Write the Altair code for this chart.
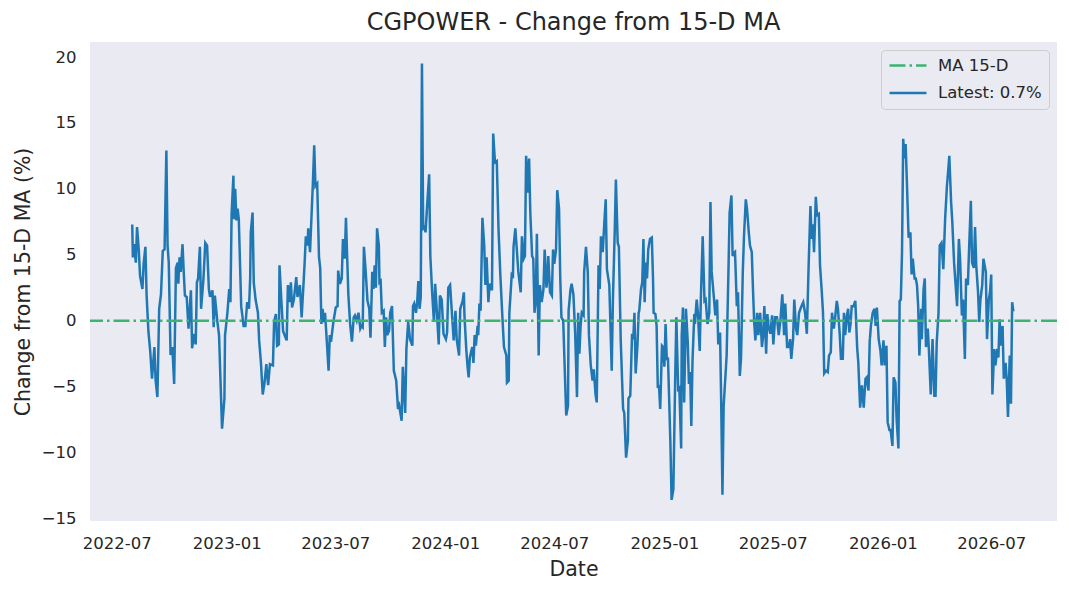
import altair as alt
import pandas as pd

# ---------------- data ----------------
BASE_DATE = "2022-07-01"  # day offsets below are counted from this date

DAYS_A = [26,27,29,32,34,37,39,43,45,48,50,53,56,59,63,65,68,71,74,77,
          80,83,85,87,90,93,96,99,102,103,105,107,110,112,114,117,120,124,126,129,
          132,134,136,139,141,145,148,151,154,156,160,162,164,168,171,176,180,181,185,188,
          190,192,195,196,198,200,202,204,208,212,215,218,221,223,224,227,229,232,236,238,
          241,244,247,250,253,256,261,263,266,268,271,272,275,278,284,286,289,291,293,296,
          300,302,306,309,312,314,316,319,320,323,326,328,330,332,335,338,340,342,344,346,
          348,350,354,356,358,362,366,369,370,373,376,378,380,381,383,387,390,393,396]
PCT_A = [7.3,4.8,5.8,4.4,7.1,5.3,3.4,2.4,4.3,5.6,
         1.9,-0.8,-2.3,-4.4,-2.0,-4.5,-5.8,0.9,2.0,5.3,
         5.4,12.9,5.7,4.4,-2.6,-2.0,-4.8,4.0,4.4,2.8,
         4.8,3.7,5.8,3.7,1.9,1.8,-0.6,2.3,-2.1,-1.0,
         -1.8,2.9,3.2,5.6,0.9,3.2,5.9,5.7,2.4,1.8,
         2.3,-0.5,1.9,0.0,-1.1,-8.2,-5.9,-1.1,0.6,2.4,
         1.4,8.1,11.0,7.7,10.0,7.6,8.5,7.7,1.1,-0.4,
         -0.4,1.4,0.9,3.2,6.7,8.2,2.9,1.6,0.6,-1.5,
         -3.2,-5.6,-4.7,-3.3,-4.9,-3.3,-3.4,-0.1,0.5,-1.9,
         -1.8,4.2,1.6,-0.8,-1.5,2.7,1.4,2.9,1.0,1.6,
         3.3,1.8,2.7,0.25,2.7,4.4,6.4,5.7,7.0,5.2,
         8.5,10.7,13.3,10.2,10.4,4.8,4.0,-0.25,0.9,-0.1,
         0.6,-0.8,-3.8,-1.1,-1.6,-0.1,1.0,1.1,3.8,2.8,
         3.2,6.2,5.2,4.7,7.8,2.0,-0.25,-1.6,0.25]

DAYS_B = [398,401,404,407,409,411,413,416,419,422,424,427,429,431,433,435,438,439,441,443,
          446,448,450,452,455,457,460,463,467,470,472,476,478,482,484,487,490,494,495,497,
          500,502,504,506,508,510,512,514,516,519,522,524,527,530,532,535,538,540,543,546,
          550,552,554,557,560,563,566,568,572,574,578,580,581,584,586,588,590,594,596,598,
          600,603,604,606,608,611,614,616,618,621,623,627,629,632,635,638,641,644,647,651,
          652,655,656,660,662,663,666,668,671,675,677,680,682,684,687,689,691,694,696,698,
          700,702,705,707,710,713,715,718,720,721,724,727,729,731,734,736,739,741,743,746,
          749,751,754,755,758,760,763,766,769,771,773]
PCT_B = [0.4,0.0,0.6,-0.6,-0.4,-0.5,5.6,3.7,1.5,0.9,
         -1.3,3.7,2.4,4.2,2.5,7.0,5.7,2.9,3.0,0.6,
         0.75,-2.0,0.25,-1.1,-0.76,0.6,1.1,-3.8,-4.55,-6.7,
         -6.45,-7.6,-3.5,-7.0,-2.15,-0.1,-1.4,-1.9,1.1,1.3,
         0.6,1.4,3.0,0.9,1.8,19.5,7.0,7.1,6.7,9.0,
         11.1,4.9,2.15,-0.1,2.8,0.6,-1.8,1.9,1.6,-1.0,
         -1.4,-0.9,2.5,2.7,0.6,-1.5,0.75,-1.4,-2.65,0.9,
         1.5,2.15,0.4,-2.15,-3.4,-4.3,-2.8,-2.0,-3.2,-1.1,
         -1.9,-0.4,-1.1,1.3,0.75,7.8,5.7,2.7,4.8,1.4,
         2.8,2.3,14.2,12.0,12.1,6.8,3.4,0.6,-2.0,-2.65,
         -4.7,-4.55,0.6,3.5,3.4,5.6,7.0,5.7,3.7,2.15,
         6.4,4.7,4.9,12.5,9.7,12.3,8.2,4.9,4.7,0.6,
         1.4,6.6,-2.65,2.7,1.4,2.4,5.4,2.5,3.4,4.9,
         2.15,1.9,5.4,4.3,5.4,9.9,8.5,3.3,0.25,0.0,
         -4.4,-7.2,-6.45,0.75,2.3,2.8,2.0,-1.0,-5.8,0.6,
         -2.5]

DAYS_C = [775,777,780,781,784,787,789,792,795,797,800,802,805,807,809,812,815,817,819,823,
          827,829,832,834,837,839,842,846,848,851,854,855,858,861,863,865,867,870,872,873,
          876,878,880,882,884,886,888,891,894,896,897,900,902,904,906,908,911,913,915,917,
          919,921,925,927,930,933,935,938,940,943,944,946,948,951,954,956,958,960,962,965,
          966,969,971,974,976,979,982,984,987,990,992,994,998,1000,1003,1005,1008,1010,1012,1014,
          1017,1019,1022,1024,1027,1029,1031,1033,1036,1038,1041,1043,1046,1048,1051,1053,1056,1058,1061,1063,
          1065,1067,1070,1072,1075,1078,1080,1082,1085,1087,1089,1092,1095,1097,1100,1103,1106,1109,1112,1115,
          1117,1120,1123,1125,1127,1130,1132,1135,1137,1140,1144,1147]
PCT_C = [-0.4,0.6,0.4,3.7,5.6,3.7,-1.1,-3.4,-4.55,-3.7,
         -5.6,-6.2,4.2,2.4,6.4,5.2,7.7,9.2,3.9,2.7,
         -3.8,1.6,6.7,10.7,5.9,5.6,-1.4,-6.7,-7.0,-10.4,
         -9.1,-5.9,-5.7,-1.0,-1.4,0.6,-4.0,-1.9,0.6,0.75,
         2.4,2.9,6.2,1.4,4.4,3.2,5.4,6.2,6.3,3.2,
         0.6,0.5,-0.4,-5.1,-4.9,-6.7,-1.9,-2.0,-3.5,-0.25,
         -3.0,-2.8,-9.2,-13.6,-12.8,-4.55,0.25,-5.2,-5.1,-9.7,
         -1.1,1.0,-6.2,0.9,-1.6,-4.8,-3.9,-8.0,-3.0,0.5,
         -0.25,1.6,0.6,-2.3,1.8,6.4,1.5,1.6,-0.25,0.6,
         9.0,3.7,1.6,0.4,1.6,-1.8,-0.9,-6.45,-13.2,-6.45,
         -4.2,-2.65,3.7,8.2,9.5,4.9,5.1,5.2,1.1,2.15,
         -4.2,-2.9,3.7,6.4,9.2,8.5,6.7,5.7,5.2,2.4,
         -0.1,-1.5,0.6,-1.1,0.6,-2.0,-1.1,1.1,-2.5,0.5,
         -0.4,-1.0,0.4,-1.8,0.25,0.25,-1.1,0.1,2.0,-1.1,
         1.3,-2.0,-2.0,-1.4,-2.9,-1.4,1.6,-0.6,-1.1,0.6,
         1.1,1.4]

DAYS_D = [1150,1153,1156,1159,1161,1163,1165,1168,1170,1173,1175,1178,1180,1182,1185,1188,1190,1193,1195,1198,
          1200,1203,1205,1208,1210,1213,1215,1217,1220,1222,1224,1226,1228,1231,1234,1237,1239,1242,1245,1248,
          1251,1253,1256,1258,1260,1263,1266,1268,1270,1273,1276,1278,1281,1283,1286,1288,1291,1293,1296,1298,
          1301,1303,1306,1308,1310,1312,1314,1316,1318,1320,1323,1326,1328,1330,1333,1335,1337,1339,1341,1344,
          1345,1348,1350,1352,1355,1357,1360,1363,1366,1368,1370,1373,1375,1378,1381,1384,1387,1389,1391,1394,
          1396,1399,1402,1404,1407,1409,1412,1414,1417,1419,1422,1424,1427,1429,1432,1434,1436,1439,1441,1443,
          1446,1448,1450,1452,1454,1457,1459,1461,1463,1466,1468,1471,1473,1475,1477,1480,1482,1485,1487,1489,
          1492,1494,1496,1498]
PCT_D = [0.6,-1.0,4.2,8.7,6.2,7.3,5.2,9.4,8.0,8.1,
         4.2,2.15,0.6,-4.0,-3.8,-3.9,-2.65,-2.4,0.6,-0.6,
         0.1,1.5,0.9,-1.1,-2.9,-2.9,0.6,-1.1,0.4,0.9,
         -0.9,-0.25,1.1,1.1,1.5,-2.0,-3.2,-6.6,-4.9,-6.6,
         -4.4,-4.3,-5.3,-1.6,-0.4,0.6,0.9,-0.4,1.0,-1.4,
         -2.3,-3.4,-1.5,-3.4,-1.9,-7.7,-8.3,-8.3,-9.5,-4.3,
         -4.7,-7.5,-9.7,1.5,1.6,5.2,13.8,12.3,13.4,10.7,
         6.3,6.7,3.5,4.7,3.2,3.2,2.7,1.1,-2.65,0.9,
         -1.4,2.4,3.2,-2.0,-0.6,-2.3,-5.6,-1.4,-5.7,-5.7,
         -1.6,0.6,5.7,5.9,3.9,7.7,10.2,11.3,12.5,9.0,
         7.5,4.4,2.4,1.1,6.2,4.7,0.4,1.6,-2.9,3.2,
         2.7,5.4,9.1,4.4,4.0,7.1,4.2,2.15,-0.1,1.6,
         2.7,4.7,4.2,3.7,-1.4,1.6,2.15,3.5,-5.6,-2.15,
         -3.4,-2.15,-2.8,0.1,-1.9,-0.4,-4.4,-3.2,-4.55,-7.3,
         -2.65,-6.3,1.4,0.7]

MA_LABEL = "MA 15-D"
LATEST_LABEL = "Latest: 0.7%"
MA_LEVEL = [0.0]
X_TICK_DATES = ["2022-07-01", "2023-01-01", "2023-07-01", "2024-01-01", "2024-07-01",
                "2025-01-01", "2025-07-01", "2026-01-01", "2026-07-01"]
Y_TICKS = [-15, -10, -5, 0, 5, 10, 15, 20]
X_DOMAIN = ["2022-05-17T10:00:00", "2026-10-18T22:00:00"]
Y_DOMAIN = [-15.2, 21.14]

# ---------------- build tables ----------------
days = DAYS_A + DAYS_B + DAYS_C + DAYS_D
pct = PCT_A + PCT_B + PCT_C + PCT_D
dates = (pd.Timestamp(BASE_DATE) + pd.to_timedelta(days, unit="D")).strftime("%Y-%m-%d")
df_line = pd.DataFrame({"date": list(dates), "pct": pct, "series": LATEST_LABEL})
df_ma = pd.DataFrame({"pct": MA_LEVEL, "series": [MA_LABEL]})


def to_dt(s):
    t = pd.Timestamp(s)
    return alt.DateTime(year=t.year, month=t.month, date=t.day,
                        hours=t.hour, utc=True)


FONT = "DejaVu Sans"
TXT = "#262626"
GREEN = "#3CB371"
BLUE = "#1f77b4"

legend = alt.Legend(
    title=None, orient="top-right", offset=8,
    fillColor="#EAEAF2", strokeColor="#CCCCCC", cornerRadius=4,
    padding=7, rowPadding=10.4, clipHeight=17,
    labelFont=FONT, labelFontSize=16.5, labelColor=TXT, labelOffset=10,
    symbolType="stroke", symbolSize=1369, symbolStrokeWidth=2.5,
)

color = alt.Color("series:N",
                  scale=alt.Scale(domain=[MA_LABEL, LATEST_LABEL], range=[GREEN, BLUE]),
                  legend=legend)
dash = alt.StrokeDash("series:N",
                      scale=alt.Scale(domain=[MA_LABEL, LATEST_LABEL],
                                      range=[[16, 4, 2.5, 4], [1, 0]]),
                      legend=legend)

x_enc = alt.X(
    "date:T",
    scale=alt.Scale(type="utc", domain=[to_dt(s) for s in X_DOMAIN], nice=False),
    axis=alt.Axis(
        values=[to_dt(s) for s in X_TICK_DATES],
        labelExpr="utcFormat(datum.value, '%Y-%m')",
        title="Date", labelFont=FONT, labelFontSize=16.5, labelColor=TXT,
        titleFont=FONT, titleFontSize=20.5, titleFontWeight="normal", titleColor=TXT,
        domain=False, ticks=False, tickSize=0, grid=False,
        labelPadding=14, titlePadding=8, labelFlush=False, labelOverlap=False,
    ),
)
y_scale = alt.Scale(domain=Y_DOMAIN, nice=False, zero=False)
y_axis = alt.Axis(
    values=Y_TICKS, title="Change from 15-D MA (%)",
    labelFont=FONT, labelFontSize=16.5, labelColor=TXT,
    titleFont=FONT, titleFontSize=20.5, titleFontWeight="normal", titleColor=TXT,
    domain=False, ticks=False, tickSize=0, grid=False,
    labelPadding=14, titlePadding=8,
)

line = alt.Chart(df_line).mark_line(strokeWidth=2.5, clip=True).encode(
    x=x_enc,
    y=alt.Y("pct:Q", scale=y_scale, axis=y_axis),
    color=color,
    strokeDash=dash,
)

ma_rule = alt.Chart(df_ma).mark_rule(strokeWidth=2.5).encode(
    y=alt.Y("pct:Q", scale=y_scale, axis=y_axis),
    color=color,
    strokeDash=dash,
)

chart = alt.layer(line, ma_rule).properties(
    width=967, height=479,
    background="white",
    title=alt.TitleParams(
        "CGPOWER - Change from 15-D MA", font=FONT, fontSize=24,
        fontWeight="normal", color=TXT, anchor="middle",
        baseline="alphabetic", offset=12.5, dy=24,
    ),
    autosize=alt.AutoSizeParams(type="none"),
    padding={"left": 82, "top": 34, "right": 4, "bottom": 62},
).configure_view(
    fill="#EAEAF2", strokeWidth=0
)

chart.save("out.html", embed_options={"renderer": "svg", "actions": False})
